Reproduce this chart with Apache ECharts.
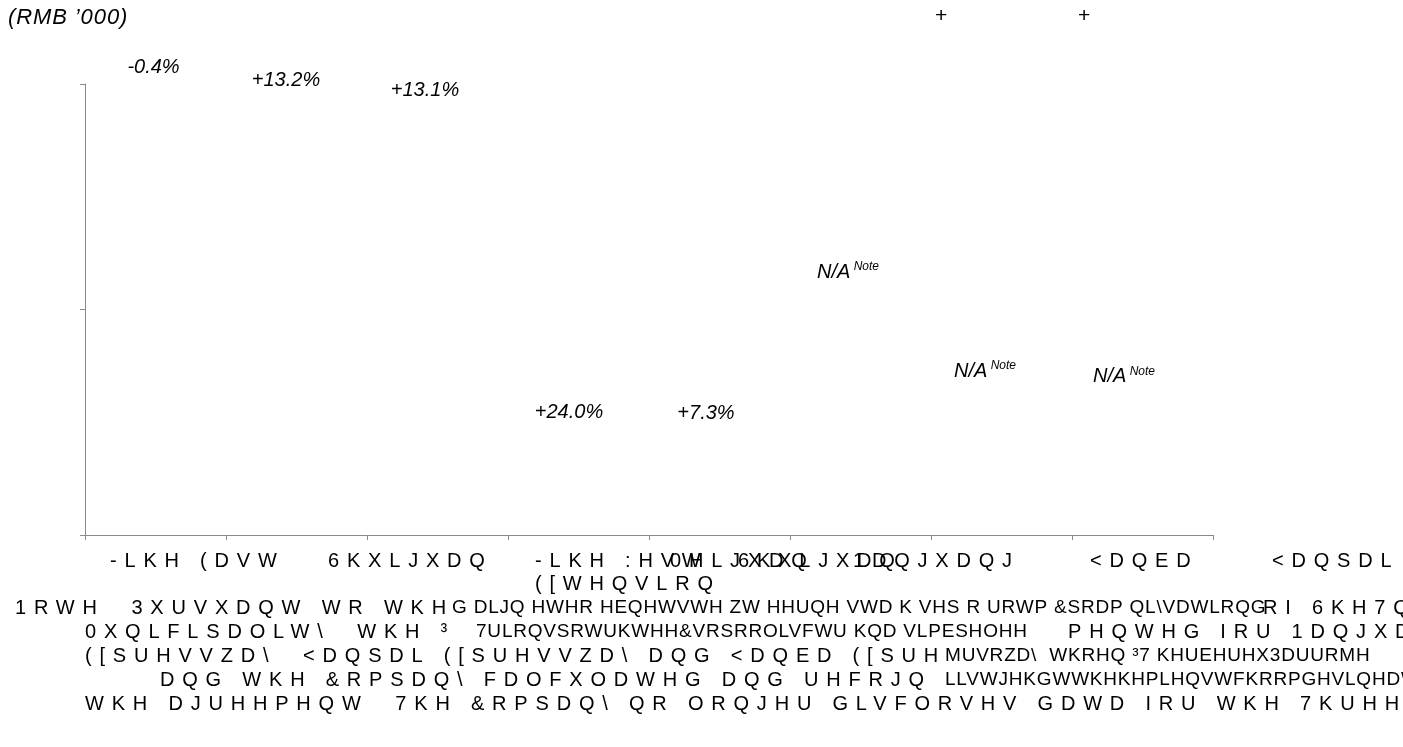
<!DOCTYPE html>
<html>
<head>
<meta charset="utf-8">
<script src="https://cdn.jsdelivr.net/npm/echarts@6/dist/echarts.min.js"></script>
<style>
html,body{margin:0;padding:0;background:#fff;}
#chart{width:1403px;height:747px;}
</style>
</head>
<body>
<div id="chart"></div>
<script>
// ---- data (as shown in the reference) ----
const categories = ['-LKH (DVW', '6KXLJXDQ', '-LKH :HVW\n([WHQVLRQ', '0HLJXDQ', '6KXLJXDQ', '1DQJXDQJ', '<DQED', '<DQSDL'];
const growthLabels = ['-0.4%', '+13.2%', '+13.1%', '+24.0%', '+7.3%', 'N/A', 'N/A', 'N/A'];
const labelLevels = [207.5, 201.8, 197.3, 54.5, 53.7, 116.6, 72.7, 70.1];
const yTicks = [0, 100, 200];
const unitLabel = '(RMB \u2019000)';
const noteMark = 'Note';
const topMarks = ['+', '+'];
const footnoteText = [
  ['1RWH  3XUVXDQW WR WKH', 'G DLJQ HWHR HEQHWVWH ZW HHUQH VWD K VHS R URWP &SRDP QL\\VDWLRQG', 'RI 6KH7Q'],
  ['0XQLFLSDOLW\\  WKH \u00b3', '7ULRQVSRWUKWHH&VRSRROLVFWU KQD VLPESHOHH', 'PHQWHG IRU 1DQJXDQJ'],
  ['([SUHVVZD\\  <DQSDL ([SUHVVZD\\ DQG <DQED ([SUH', 'MUVRZD\\  WKRHQ \u00b37 KHUEHUHX3DUURMH'],
  ['DQG WKH &RPSDQ\\ FDOFXODWHG DQG UHFRJQ', 'LLVWJHKGWWKHKHPLHQVWFKRRPGHVLQHDWFR['],
  ['WKH DJUHHPHQW  7KH &RPSDQ\\ QR ORQJHU GLVFORVHV GDWD IRU WKH 7KUHH']
];

// ---- layout (positions / styles) ----
const catLabelOffsets = [-45.5, 31.5, 97.5, 91.5, 18.5, -7.5, 88.5, 129.5];
const valueLabelShift = [-2, -10.5, -12.5, -9.5, -13.5, -12.5, -16.5, -18.5];
const footnoteX = [[15, 452, 1263], [85, 476, 1068], [85, 945], [160, 945], [85]];
const footnoteKind = [['s','d','s'], ['s','d','s'], ['s','d'], ['s','d'], ['s']];
const topMarkX = [935, 1078];
const FONT = 'Liberation Sans';
const AXIS = '#898989';

// tracked text: letter spacing chosen by font size / style
(function () {
  const P = CanvasRenderingContext2D.prototype;
  if (!('letterSpacing' in P)) return;
  const orig = P.fillText;
  P.fillText = function (t, x, y, w) {
    const f = this.font || '';
    let ls = '0px';
    const m = f.match(/([\d.]+)px/);
    const s = m ? parseFloat(m[1]) : 0;
    if (/italic|oblique/.test(f)) {
      if (s === 22) ls = '0.9px';
    } else {
      if (s === 20) ls = '7.8px';
      else if (s === 19) ls = '0.8px';
    }
    this.letterSpacing = ls;
    return w === undefined ? orig.call(this, t, x, y) : orig.call(this, t, x, y, w);
  };
})();

const chart = echarts.init(document.getElementById('chart'), null, { renderer: 'canvas' });

const option = {
  animation: false,
  backgroundColor: '#ffffff',
  title: {
    text: unitLabel, left: 8, top: 7, padding: 0,
    textStyle: { fontStyle: 'italic', fontWeight: 'normal', fontSize: 22, fontFamily: FONT, color: '#000' }
  },
  grid: { left: 85, right: 190, top: 84, bottom: 212, containLabel: false },
  xAxis: {
    type: 'category',
    data: categories,
    boundaryGap: true,
    axisLine: { show: true, lineStyle: { color: AXIS, width: 1 } },
    axisTick: { show: true, length: 5, lineStyle: { color: AXIS } },
    axisLabel: { show: false },
    splitLine: { show: false }
  },
  yAxis: {
    type: 'value',
    min: yTicks[0], max: yTicks[yTicks.length - 1], interval: yTicks[1] - yTicks[0],
    axisLine: { show: true, lineStyle: { color: AXIS, width: 1 } },
    axisTick: { show: true, length: 5, lineStyle: { color: AXIS } },
    axisLabel: { show: false },
    splitLine: { show: false }
  },
  series: [{
    type: 'scatter',
    data: labelLevels.map(function (v, i) {
      return { value: v, label: { offset: [valueLabelShift[i], 0] } };
    }),
    symbolSize: 1,
    clip: false,
    silent: true,
    itemStyle: { color: 'rgba(0,0,0,0)' },
    label: {
      show: true,
      position: 'inside',
      fontStyle: 'italic',
      fontSize: 20,
      fontFamily: FONT,
      color: '#000',
      opacity: 1,
      textBorderWidth: 0,
      formatter: function (p) {
        const t = growthLabels[p.dataIndex];
        return t === 'N/A' ? '{a|N/A}{b| ' + noteMark + '}' : t;
      },
      rich: {
        a: { fontStyle: 'italic', fontSize: 20, fontFamily: FONT, color: '#000', lineHeight: 22, textBorderWidth: 0 },
        b: { fontStyle: 'italic', fontSize: 12, fontFamily: FONT, color: '#000', lineHeight: 12, verticalAlign: 'top', textBorderWidth: 0 }
      }
    }
  }]
};
chart.setOption(option);

// graphic texts: category names (placed relative to category centres) and footnote
const graphics = [];
categories.forEach(function (name, i) {
  const cx = chart.convertToPixel({ xAxisIndex: 0 }, i);
  graphics.push({
    type: 'text', silent: true,
    x: cx + catLabelOffsets[i], y: 550,
    style: { text: name, fontSize: 20, fontFamily: FONT, fill: '#000', align: 'left', verticalAlign: 'top', lineHeight: 23 }
  });
});
footnoteText.forEach(function (segs, li) {
  segs.forEach(function (txt, si) {
    graphics.push({
      type: 'text', silent: true,
      x: footnoteX[li][si], y: 608 + 24 * li,
      style: { text: txt, fontSize: footnoteKind[li][si] === 's' ? 20 : 19, fontFamily: FONT, fill: '#000', align: 'left', verticalAlign: 'middle' }
    });
  });
});
topMarks.forEach(function (m, i) {
  graphics.push({
    type: 'text', silent: true, x: topMarkX[i], y: 16,
    style: { text: m, fontSize: 21, fontFamily: FONT, fill: '#000', align: 'left', verticalAlign: 'middle' }
  });
});
chart.setOption({ graphic: graphics });
</script>
</body>
</html>
